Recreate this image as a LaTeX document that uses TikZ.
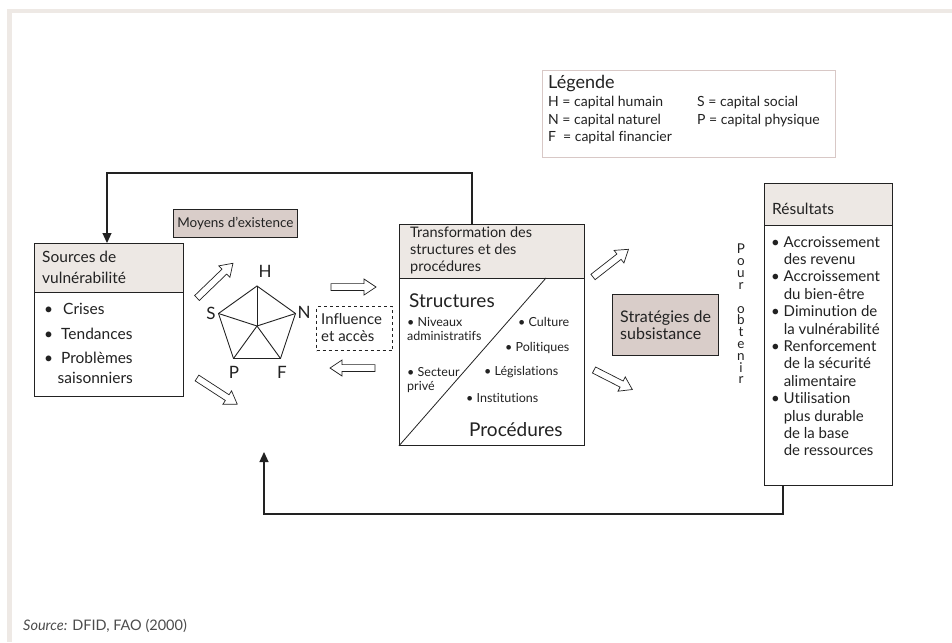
\documentclass[tikz,border=0pt]{standalone}
\usepackage{fontspec}
\setmainfont{Lato}[Ligatures={NoCommon}]
\usetikzlibrary{arrows.meta}
\definecolor{bgband}{HTML}{EEE9E5}
\definecolor{hdrfill}{HTML}{EDE8E4}
\definecolor{darkfill}{HTML}{D9CDC9}
\definecolor{legline}{HTML}{D8C8C6}
\definecolor{ink}{HTML}{222222}
\begin{document}
\begin{tikzpicture}[x=1pt,y=-1pt,
  box/.style={draw=ink, line width=0.8, fill=white, inner sep=0, anchor=north west},
  hdr/.style={box, fill=hdrfill},
  darkbox/.style={box, fill=darkfill},
  txt/.style={inner sep=0, anchor=west, text=ink, font=\fontsize{15}{17}\selectfont},
  srctxt/.style={txt, font=\fontsize{15.5}{17}\selectfont},
  smalltxt/.style={txt, font=\fontsize{12.5}{14}\selectfont},
  bigtxt/.style={txt, font=\fontsize{19}{21}\selectfont},
  legtxt/.style={txt, font=\fontsize{14}{15}\selectfont},
  pentxt/.style={txt, anchor=center, font=\fontsize{17}{18}\selectfont},
  conn/.style={draw=ink, line width=1.2},
  tip/.style={-{Triangle[length=10, width=9]}},
  blockarrow/.pic={\draw[draw=ink, fill=white, line width=0.7]
     (0,-3.4)--(#1-12,-3.4)--(#1-12,-8)--(#1,0)--(#1-12,8)--(#1-12,3.4)--(0,3.4)--cycle;}
]
\useasboundingbox (0,0) rectangle (952,642);
\fill[white] (0,0) rectangle (952,642);
\fill[bgband] (7,9) rectangle (952,13);
\fill[bgband] (7,9) rectangle (12,642);

% legend
\node[box, draw=legline, minimum width=293, minimum height=87] (leg) at (542,70) {};
\node[txt, font=\fontsize{18}{20}\selectfont] (legt) at (548,84) {Légende};
\node[legtxt] (lh) at (548,103) {H = capital humain};
\node[legtxt] (ls) at (697,103) {S = capital social};
\node[legtxt] (ln) at (548,120.5) {N = capital naturel};
\node[legtxt] (lp) at (697,120.5) {P = capital physique};
\node[legtxt] (lf) at (548,138) {F\enspace = capital financier};

% sources
\node[box, minimum width=149, minimum height=153] (src) at (34,243) {};
\node[hdr, minimum width=149, minimum height=49] (srch) at (34,243) {};
\node[srctxt] (s1) at (42,257) {Sources de};
\node[srctxt] (s2) at (42,278) {vulnérabilité};
\node[srctxt] (s3) at (44,309) {\textbullet\hspace{10pt}Crises};
\node[srctxt] (s4) at (44,334) {\textbullet\hspace{8pt}Tendances};
\node[srctxt] (s5) at (44,358) {\textbullet\hspace{8pt}Problèmes};
\node[srctxt] (s6) at (57.5,378) {saisonniers};

% moyens d'existence
\node[darkbox, minimum width=124, minimum height=28] (moy) at (173,209) {};
\node[txt, anchor=center, font=\fontsize{13.5}{15}\selectfont] (moyt) at (moy.center) {Moyens d’existence};

% pentagon
\coordinate (pc) at (257,326);
\coordinate (vH) at (257,286);
\coordinate (vN) at (295.5,313.5);
\coordinate (vF) at (280.5,358.5);
\coordinate (vP) at (233.5,358.5);
\coordinate (vS) at (218.5,313.5);
\draw[ink, line width=0.9] (vH)--(vN)--(vF)--(vP)--(vS)--cycle;
\foreach \v in {vH,vN,vF,vP,vS} \draw[ink, line width=0.9] (pc)--(\v);
\node[pentxt] (lH) at (265,271) {H};
\node[pentxt] (lS) at (211,313) {S};
\node[pentxt] (lN) at (304,312) {N};
\node[pentxt] (lP) at (234,372) {P};
\node[pentxt] (lF) at (282,372) {F};

% influence
\node[box, draw=ink, dashed, line width=1.1, minimum width=76, minimum height=44] (inf) at (316,306) {};
\node[txt, align=left, font=\fontsize{15}{17}\selectfont] (inft) at (321,328) {Influence\\et accès};

% transformation
\node[box, minimum width=185, minimum height=221] (tr) at (399,224) {};
\node[hdr, minimum width=185, minimum height=54] (trh) at (399,224) {};
\node[txt, font=\fontsize{14.5}{17}\selectfont, align=left] (trt) at (410,250.5) {Transformation des\\structures et des\\procédures};
\draw[ink, line width=0.8] (tr.south west) -- (546,278);
\node[bigtxt] (stru) at (409,301) {Structures};
\node[smalltxt] (t1) at (407,322) {\textbullet\ Niveaux};
\node[smalltxt] (t2) at (407,336) {administratifs};
\node[smalltxt] (t3) at (407,372) {\textbullet\ Secteur};
\node[smalltxt] (t4) at (407,387) {privé};
\node[smalltxt] (t5) at (518,322) {\textbullet\ Culture};
\node[smalltxt] (t6) at (505,348) {\textbullet\ Politiques};
\node[smalltxt] (t7) at (484,372) {\textbullet\ Législations};
\node[smalltxt] (t8) at (466,398) {\textbullet\ Institutions};
\node[bigtxt] (proc) at (469,430) {Procédures};

% strategies
\node[darkbox, minimum width=106, minimum height=61] (str) at (612,294) {};
\node[txt, align=left, font=\fontsize{16}{17}\selectfont] (strt) at (620,325) {Stratégies de\\subsistance};

% pour obtenir
\node[txt, anchor=north, align=center, font=\fontsize{13.5}{11.8}\selectfont] (pour) at (741,244) {P\\o\\u\\r\\[12pt]o\\b\\t\\e\\n\\i\\r};

% resultats
\node[box, minimum width=128, minimum height=302] (res) at (764,183) {};
\node[hdr, minimum width=128, minimum height=42] (resh) at (764,183) {};
\node[txt, font=\fontsize{15.5}{17}\selectfont] (rt) at (772,209) {Résultats};
\node[txt, align=left, anchor=north west, font=\fontsize{15}{17.4}\selectfont] (rl) at (771,236)
 {\textbullet\ Accroissement\\\hphantom{\textbullet\ }des revenu\\
  \textbullet\ Accroissement\\\hphantom{\textbullet\ }du bien-être\\
  \textbullet\ Diminution de\\\hphantom{\textbullet\ }la vulnérabilité\\
  \textbullet\ Renforcement\\\hphantom{\textbullet\ }de la sécurité\\\hphantom{\textbullet\ }alimentaire\\
  \textbullet\ Utilisation\\\hphantom{\textbullet\ }plus durable\\\hphantom{\textbullet\ }de la base\\\hphantom{\textbullet\ }de ressources};

% block arrows
\pic[rotate=44] at (197,298) {blockarrow=50};
\pic[rotate=-33] at (197,378) {blockarrow=48};
\pic at (331,287) {blockarrow=45};
\pic[rotate=180] at (375,368) {blockarrow=45};
\pic[rotate=38] at (593,277) {blockarrow=45};
\pic[rotate=-27] at (594,370) {blockarrow=43};

% feedback connectors
\coordinate (ttop) at (472,224);
\coordinate (k1) at (107,173);
\draw[conn, tip] (ttop) |- (k1) -- (k1 |- src.north);
\coordinate (rbot) at (783,485);
\coordinate (k2) at (264,514);
\coordinate (k3) at (264,452);
\draw[conn, tip] (rbot) |- (k2) -- (k3);

% source
\node[txt, text=black!70, font=\fontsize{14.5}{16}\selectfont] (srcnote) at (23,626) {\textit{Source:} DFID, FAO (2000)};
\end{tikzpicture}
\end{document}
